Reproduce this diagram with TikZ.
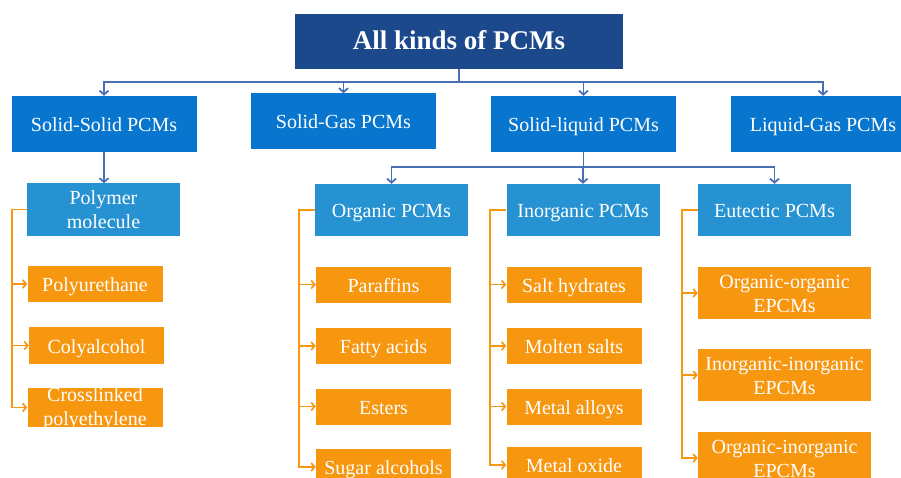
\documentclass[tikz,border=0pt]{standalone}
\usepackage{fontspec}
\setmainfont{Liberation Serif}
\usetikzlibrary{arrows.meta}
\definecolor{pcmnavy}{RGB}{28,72,140}
\definecolor{pcmblue}{RGB}{8,118,206}
\definecolor{pcmsky}{RGB}{38,146,210}
\definecolor{pcmorange}{RGB}{247,150,15}
\definecolor{pcmline}{RGB}{72,110,182}
\begin{document}
\begin{tikzpicture}[x=1pt, y=-1pt,
    base/.style={text=white, inner sep=0pt, align=center, text height=16.5pt, text depth=1.5pt, font=\fontsize{20}{24}\selectfont},
    twoline/.style={text height=40.5pt},
    head/.style={base, fill=pcmnavy, minimum width=328pt, minimum height=55pt, text height=20pt, text depth=4pt, font=\fontsize{27}{30}\selectfont\bfseries},
    kind/.style={base, fill=pcmblue, minimum width=185pt, minimum height=56pt},
    group/.style={base, fill=pcmsky, minimum width=153pt, minimum height=52pt},
    item/.style={base, fill=pcmorange, minimum width=135pt, minimum height=36pt},
    epcm/.style={item, twoline, minimum width=173pt, minimum height=52pt},
    link/.style={pcmline, line width=1.8pt, -{Straight Barb[length=4pt,width=9pt]}},
    feed/.style={pcmorange, line width=1.7pt, -{Straight Barb[length=3.5pt,width=8pt]}}]
  \useasboundingbox (0,0) rectangle (901,478);
  \node[head] (all) at (459,41.5) {All kinds of PCMs};
  \node[kind] (ss) at (104,124) {Solid-Solid PCMs};
  \node[kind] (sg) at (343.5,121.5) {Solid-Gas PCMs};
  \node[kind] (sl) at (583.5,124) {Solid-liquid PCMs};
  \node[kind] (lg) at (823,124) {Liquid-Gas PCMs};
  \node[group, twoline] (poly) at (103.5,209.5) {Polymer\\molecule};
  \node[group] (org) at (391.5,210) {Organic PCMs};
  \node[group] (inorg) at (583,210) {Inorganic PCMs};
  \node[group] (eut) at (774.5,210) {Eutectic PCMs};
  % orange leaves
  \node[item] (pu) at (95,284) {Polyurethane};
  \node[item, minimum height=37pt] (co) at (96.5,345.5) {Colyalcohol};
  \node[item, minimum height=39pt, text height=37pt, text depth=2pt] (cl) at (95,407.5) {Crosslinked\\polyethylene};
  \foreach \n/\y/\t in {par/284.5/Paraffins, fa/346/Fatty acids, es/406.5/Esters, su/467/Sugar alcohols}
    \node[item] (\n) at (383.5,\y) {\t};
  \foreach \n/\y/\t in {sh/284.5/Salt hydrates, ms/346/Molten salts, ma/406.5/Metal alloys, mo/465/Metal oxide}
    \node[item] (\n) at (574,\y) {\t};
  \foreach \n/\y/\t in {oo/293/{Organic-organic\\EPCMs}, ii/375/{Inorganic-inorganic\\EPCMs}, oi/458/{Organic-inorganic\\EPCMs}}
    \node[epcm] (\n) at (784.5,\y) {\t};
  % connectors
  \foreach \n in {ss,sg,sl,lg}
    \draw[link] (all.south) -- ++(0,13) -| (\n.north);
  \draw[link] (ss.south) -- (ss.south |- poly.north);
  \foreach \n in {org,inorg,eut}
    \draw[link] (sl.south) -- ++(0,15) -| (\n.north);
  \foreach \n in {pu,co,cl}
    \draw[feed] (poly.west) -- ++(-15,0) |- (\n.west);
  \foreach \n in {par,fa,es,su}
    \draw[feed] (org.west) -- ++(-16,0) |- (\n.west);
  \foreach \n in {sh,ms,ma,mo}
    \draw[feed] (inorg.west) -- ++(-16,0) |- (\n.west);
  \foreach \n in {oo,ii,oi}
    \draw[feed] (eut.west) -- ++(-16,0) |- (\n.west);
\end{tikzpicture}
\end{document}
